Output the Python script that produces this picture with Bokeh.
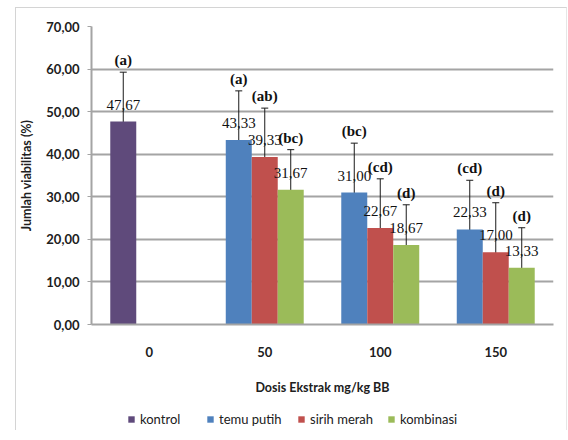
from bokeh.plotting import figure
from bokeh.layouts import column
from bokeh.models import (ColumnDataSource, FactorRange, Range1d, FixedTicker,
                          Whisker, TeeHead, Legend, LegendItem)
from bokeh.transform import dodge
from bokeh.core.properties import value
from bokeh.embed import file_html
from bokeh.resources import INLINE

# ---- data ----
categories = ["0", "50", "100", "150"]

kontrol_cats = ["0"]
kontrol_vals = [47.67]
kontrol_err = [11.6]
kontrol_sig = ["(a)"]

dose_cats = ["50", "100", "150"]
temu_vals = [43.33, 31.00, 22.33]
temu_err = [11.55, 11.6, 11.55]
temu_sig = ["(a)", "(bc)", "(cd)"]

sirih_vals = [39.33, 22.67, 17.00]
sirih_err = [11.5, 11.55, 11.6]
sirih_sig = ["(ab)", "(cd)", "(d)"]

komb_vals = [31.67, 18.67, 13.33]
komb_err = [9.4, 9.45, 9.4]
komb_sig = ["(bc)", "(d)", "(d)"]

y_ticks = [0, 10, 20, 30, 40, 50, 60, 70]

series_names = ["kontrol", "temu putih", "sirih merah", "kombinasi"]
colors = ["#5F4A7B", "#4F81BD", "#C0504D", "#9BBB59"]

BAR_W = 0.225
GRID = "#A4A4A4"
TXT = "#202020"


def fmt(v):
    return f"{v:.2f}".replace(".", ",")


def make_src(cats, vals, errs, sigs):
    return ColumnDataSource(dict(
        cat=cats, val=vals,
        upper=[v + e for v, e in zip(vals, errs)],
        lower=[v - e for v, e in zip(vals, errs)],
        lbl=[fmt(v) for v in vals],
        sig=sigs,
    ))


p = figure(width=550, height=395, output_backend="svg", toolbar_location=None,
           x_range=FactorRange(*categories, range_padding=0, factor_padding=0),
           y_range=Range1d(0, 70))
p.min_border_left = 75
p.min_border_right = 13
p.min_border_top = 18
p.min_border_bottom = 79
p.outline_line_color = None
p.background_fill_color = "white"
p.border_fill_color = "white"

sets = [
    (make_src(kontrol_cats, kontrol_vals, kontrol_err, kontrol_sig), -BAR_W, colors[0]),
    (make_src(dose_cats, temu_vals, temu_err, temu_sig), -BAR_W, colors[1]),
    (make_src(dose_cats, sirih_vals, sirih_err, sirih_sig), 0.0, colors[2]),
    (make_src(dose_cats, komb_vals, komb_err, komb_sig), BAR_W, colors[3]),
]

for src, off, col in sets:
    xd = dodge("cat", off, range=p.x_range)
    p.vbar(x=xd, top="val", width=BAR_W, bottom=0, source=src,
           fill_color=col, line_color=None)
    p.text(x=xd, y="val", text="lbl", source=src, y_offset=-17,
           text_align="center", text_baseline="middle",
           text_font=value("Liberation Serif"), text_font_size="15px",
           text_color="#111111")
    p.text(x=xd, y="upper", text="sig", source=src, y_offset=-12,
           text_align="center", text_baseline="middle",
           text_font=value("Liberation Serif"), text_font_size="15px",
           text_font_style="bold", text_color="#111111")
    w = Whisker(base=xd, upper="upper", lower="lower", source=src,
                line_color="#1a1a1a", line_width=1,
                upper_head=TeeHead(size=7, line_color="#1a1a1a", line_width=1),
                lower_head=TeeHead(size=7, line_color="#1a1a1a", line_width=1))
    p.add_layout(w)

# grid
p.xgrid.grid_line_color = None
p.ygrid.grid_line_color = GRID
p.ygrid.grid_line_width = 2
p.ygrid.ticker = FixedTicker(ticks=y_ticks)

# y axis
p.yaxis.ticker = FixedTicker(ticks=y_ticks)
p.yaxis.major_label_overrides = {t: fmt(t) for t in y_ticks}
p.yaxis.axis_line_color = GRID
p.yaxis.axis_line_width = 2
p.yaxis.major_tick_line_color = GRID
p.yaxis.major_tick_out = 4
p.yaxis.major_tick_in = 0
p.yaxis.minor_tick_line_color = None
p.yaxis.major_label_standoff = 8
p.yaxis.major_label_text_font = "Lato"
p.yaxis.major_label_text_font_style = "bold"
p.yaxis.major_label_text_font_size = "13px"
p.yaxis.major_label_text_color = TXT
p.yaxis.axis_label = "Jumlah viabilitas (%)"
p.yaxis.axis_label_text_font = "Lato"
p.yaxis.axis_label_text_font_style = "bold"
p.yaxis.axis_label_text_font_size = "12.5px"
p.yaxis.axis_label_text_color = TXT
p.yaxis.axis_label_standoff = 9

# x axis
p.xaxis.axis_line_color = GRID
p.xaxis.axis_line_width = 2
p.xaxis.major_tick_line_color = None
p.xaxis.major_tick_out = 0
p.xaxis.major_tick_in = 0
p.xaxis.major_label_standoff = 22
p.xaxis.major_label_text_font = "Lato"
p.xaxis.major_label_text_font_style = "bold"
p.xaxis.major_label_text_font_size = "13px"
p.xaxis.major_label_text_color = TXT
p.xaxis.axis_label = "Dosis Ekstrak mg/kg BB"
p.xaxis.axis_label_text_font = "Lato"
p.xaxis.axis_label_text_font_style = "bold"
p.xaxis.axis_label_text_font_size = "12.5px"
p.xaxis.axis_label_text_color = TXT
p.xaxis.axis_label_standoff = 20

# ---- legend strip ----
pl = figure(width=550, height=27, output_backend="svg", toolbar_location=None,
            x_range=Range1d(0, 1), y_range=Range1d(0, 1),
            x_axis_type=None, y_axis_type=None)
pl.min_border = 0
pl.outline_line_color = None
pl.grid.grid_line_color = None
pl.background_fill_color = "white"
pl.border_fill_color = "white"
leg_x = [36, 115, 206, 296]
for name, c, lx in zip(series_names, colors, leg_x):
    r = pl.vbar(x=[-5], top=[-5], bottom=[-6], width=0.1, fill_color=c, line_color=None)
    lg = Legend(items=[LegendItem(label=name, renderers=[r])],
                orientation="horizontal", location=(lx, 3),
                glyph_width=8, glyph_height=8, label_height=16, label_standoff=5,
                spacing=0, padding=0, margin=0, border_line_color=None,
                background_fill_alpha=0,
                label_text_font="Lato", label_text_font_size="13px",
                label_text_color=TXT)
    pl.add_layout(lg, "center")

layout = column(p, pl, spacing=0)
layout.margin = (7, 0, 0, 15)
layout.styles = {"border-left": "1px solid #D4D4D4", "border-top": "1px solid #D4D4D4",
                 "border-right": "1px solid #E6E6E6"}

open("out.html", "w").write(file_html(layout, INLINE))
